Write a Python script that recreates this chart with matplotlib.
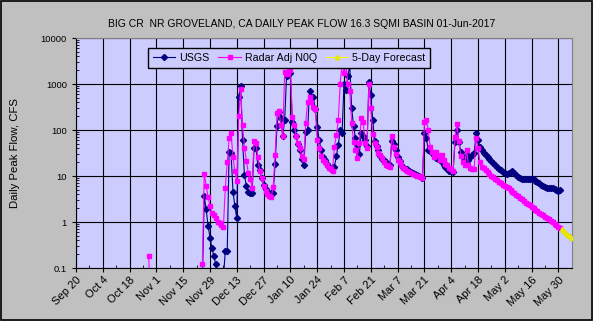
import numpy as np
import pandas as pd
import matplotlib
matplotlib.use("Agg")
import matplotlib.pyplot as plt
from matplotlib.ticker import FixedLocator, FixedFormatter, LogLocator, NullFormatter
from matplotlib.patches import Rectangle

plt.rcParams['font.family'] = ['Liberation Sans', 'DejaVu Sans']

TITLE = "BIG CR  NR GROVELAND, CA DAILY PEAK FLOW 16.3 SQMI BASIN 01-Jun-2017"

# axis range and ticks
x_start = pd.Timestamp("2016-09-20")
x_end = x_start + pd.Timedelta(days=259.1)
tick_dates = pd.date_range("2016-09-20", "2017-05-30", freq="14D")
minor_dates = pd.date_range("2016-09-27", "2017-06-06", freq="14D")
y_ticks = [0.1, 1, 10, 100, 1000, 10000]
y_tick_labels = ["0.1", "1", "10", "100", "1000", "10000"]

# daily peak flows, cfs
radar_early_start = "2016-10-28"
radar_early = [0.18, 0.01]

series_start = "2016-11-25"
usgs_flow = [
    0.05, 3.6, 1.9, 0.82, 0.46, 0.27, 0.18, 0.12, 0.07, 0.06,
    0.06, 0.06, 0.24, 0.24, 34, 32, 4.6, 2.2, 1.2, 525,
    900, 60, 10.5, 6.1, 4.4, 4.3, 4.2, 40, 40, 17,
    13.5, 9, 6.3, 5.1, 4.6, 4.3, 4.2, 4.2, 18, 120,
    250, 180, 74, 165, 1500, 1550, 1700, 150, 100, 74,
    50, 37, 24, 17, 91, 100, 700, 525, 510, 280,
    117, 62, 37, 26, 22, 18, 15.5, 14, 15.5, 16,
    27, 47, 100, 85, 1020, 735, 1500, 2560, 300, 120,
    66, 47, 30, 85, 75, 60, 45, 1110, 570, 163,
    58, 45, 37, 27, 24, 22, 20, 18, 17, 58,
    50, 37, 26, 21, 17.4, 16, 14.5, 14, 13, 12,
    11.5, 11, 10.5, 10, 9.6, 9.2, 85, 66, 37, 35,
    32, 28, 25, 24, 22, 20, 17, 15.5, 14, 13,
    12.8, 12.5, 56, 100, 55, 34, 26, 22, 28, 22,
    26, 28, 31, 85, 60, 42, 37, 31, 28, 26,
    24, 21, 19, 17, 15.5, 14.5, 13.5, 12.5, 11.8, 11,
    11.5, 12.5, 12.8, 11.5, 10.5, 9.6, 9.0, 8.8, 8.6, 8.5,
    8.5, 8.6, 8.5, 8.4, 7.8, 7.3, 6.9, 6.4, 6.0, 5.7,
    5.5, 5.4, 5.4, 5.4, 5.2, 5.0, 4.8, 4.9,
]
radar_flow = [
    0.12, 11, 6.1, 3.5, 2.2, 1.55, 1.4, 1.2, 1.0, 0.95,
    0.88, 0.78, 5.6, 20, 67, 84, 26, 13, 7.7, 200,
    760, 128, 41, 21.5, 11.5, 8.5, 5.6, 58, 51, 26,
    13, 9, 6.1, 4.8, 4.1, 3.7, 3.5, 5.8, 28, 229,
    260, 128, 74, 1830, 1630, 2430, 2060, 194, 130, 74,
    51, 40, 27, 24, 143, 410, 525, 400, 320, 280,
    62, 40, 27, 22, 20, 17.4, 15, 14, 13, 43,
    78, 163, 1020, 2870, 1700, 2780, 1000, 698, 143, 56,
    37, 25, 53, 178, 152, 52, 40, 1020, 296, 80,
    52, 43, 31, 28, 25, 20, 17.4, 16.5, 15.5, 74,
    43, 30, 22, 20, 17, 15, 14, 13, 12.5, 11.8,
    11.2, 10.5, 10.2, 10, 9.5, 9.0, 150, 163, 100, 43,
    34, 26, 34, 28, 22, 28, 22, 18, 17, 15,
    14, 13, 69, 132, 57, 27, 20, 17.4, 37, 17.4,
    15, 14.5, 14, 66, 40, 20, 16, 15, 13.5, 12.2,
    11.2, 10.2, 9.3, 8.6, 8.0, 7.4, 6.9, 6.5, 6.2, 5.9,
    5.4, 5.0, 4.6, 4.3, 3.9, 3.6, 3.3, 3.1, 2.8, 2.6,
    2.45, 2.3, 2.15, 2.0, 1.85, 1.72, 1.6, 1.5, 1.4, 1.3,
    1.22, 1.14, 1.06, 0.98, 0.9, 0.84, 0.78, 0.74,
]
forecast_start = "2017-06-01"
forecast_flow = [0.71, 0.64, 0.58, 0.53, 0.49, 0.46]


def days_from(start, values):
    return pd.date_range(start, periods=len(values), freq="D")


fig = plt.figure(figsize=(5.93, 3.21), dpi=100, facecolor="#C0C0C0")
ax = fig.add_axes([76 / 593, 1 - 268 / 321, 496 / 593, 230 / 321])
ax.set_facecolor("#CCCCFF")

ax.plot(days_from(series_start, usgs_flow), usgs_flow, color="#000080", lw=0.8,
        marker="D", ms=3.1, mec="#000080", mfc="#000080", label="USGS", zorder=3)
ax.plot(days_from(radar_early_start, radar_early), radar_early, color="#FF00FF", lw=0.8,
        marker="s", ms=2.8, mec="#FF00FF", mfc="#FF00FF", zorder=4)
ax.plot(days_from(series_start, radar_flow), radar_flow, color="#FF00FF", lw=0.8,
        marker="s", ms=2.8, mec="#FF00FF", mfc="#FF00FF", label="Radar Adj N0Q", zorder=4)
ax.plot(days_from(forecast_start, forecast_flow), forecast_flow, color="#FFFF00", lw=0.8,
        marker="^", ms=3.2, mec="#E0E000", mfc="#FFFF00", label="5-Day Forecast", zorder=5)

ax.set_yscale("log")
ax.set_ylim(0.1, 10000)
ax.set_xlim(x_start, x_end)

ax.yaxis.set_major_locator(FixedLocator(y_ticks))
ax.yaxis.set_major_formatter(FixedFormatter(y_tick_labels))
ax.yaxis.set_minor_locator(LogLocator(base=10, subs=np.arange(2, 10)))
ax.yaxis.set_minor_formatter(NullFormatter())

ax.set_xticks(tick_dates)
ax.set_xticklabels([f"{d:%b} {d.day}" for d in tick_dates], rotation=45,
                   ha="right", rotation_mode="anchor", fontsize=8)
ax.set_xticks(minor_dates, minor=True)

ax.tick_params(axis="both", which="major", direction="out", length=3, width=0.8,
               colors="black")
ax.tick_params(axis="y", which="major", labelsize=6.8)
ax.tick_params(axis="both", which="minor", direction="in", length=2, width=0.6)
ax.tick_params(axis="x", which="major", pad=2)

ax.grid(True, which="major", color="black", lw=0.8)
ax.set_axisbelow(True)
for side in ["left", "bottom"]:
    ax.spines[side].set_color("black")
for side in ["top", "right"]:
    ax.spines[side].set_color("#808080")

leg = ax.legend(loc="upper left", bbox_to_anchor=(0.145, 0.957), ncol=3,
                fontsize=7.7, frameon=True, fancybox=False, borderaxespad=0,
                handlelength=2.1, handletextpad=0.4, columnspacing=0.8,
                borderpad=0.45)
leg.get_frame().set_facecolor("#CCCCFF")
leg.get_frame().set_edgecolor("black")
leg.get_frame().set_alpha(1)
leg.set_zorder(10)

fig.text(0.509, 1 - 24 / 321, TITLE, ha="center", va="center", fontsize=7.5)
fig.text(15 / 593, 1 - 153 / 321, "Daily Peak Flow, CFS", rotation=90,
         ha="center", va="center", fontsize=8.2)

fig.add_artist(Rectangle((0.001, 0.002), 0.997, 0.995, transform=fig.transFigure,
                         fill=False, edgecolor="black", lw=1.2))

fig.savefig("out.png", dpi=100, facecolor=fig.get_facecolor())
